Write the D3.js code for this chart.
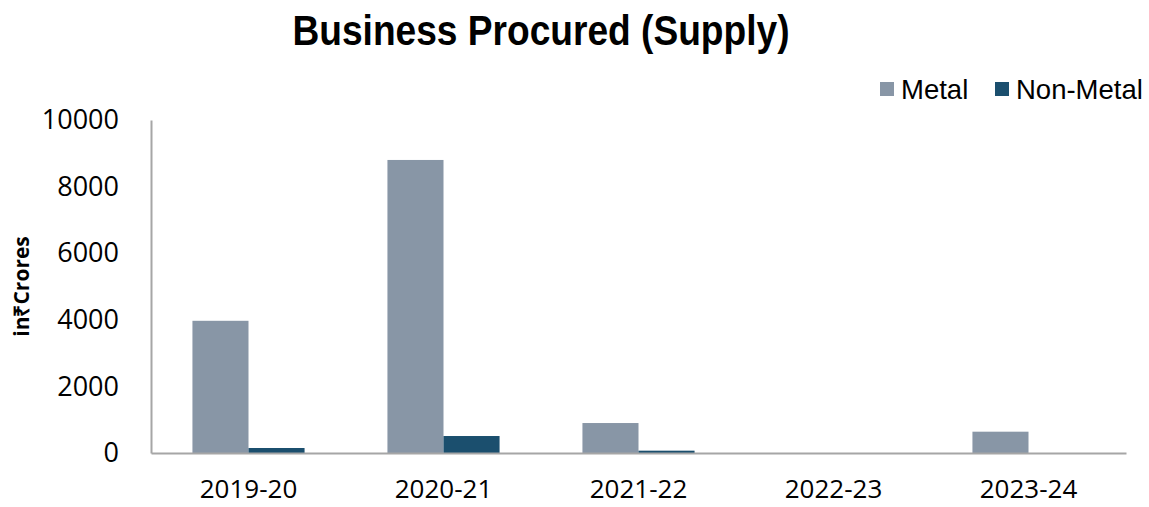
<!DOCTYPE html>
<html>
<head>
<meta charset="utf-8">
<script src="https://cdn.jsdelivr.net/npm/d3@7"></script>
<style>
  html, body { margin: 0; padding: 0; background: #fff; }
  svg { display: block; }
</style>
</head>
<body>
<svg id="chart" width="1149" height="507"></svg>
<script>
// Business procured by year, in ₹ Crores
const categories = ["2019-20", "2020-21", "2021-22", "2022-23", "2023-24"];
const metal = [3970, 8800, 900, 0, 640];
const nonMetal = [150, 510, 70, 0, 0];
const seriesNames = ["Metal", "Non-Metal"];
const yTicks = [0, 2000, 4000, 6000, 8000, 10000];

const colors = { "Metal": "#8896A6", "Non-Metal": "#1B4F6E" };

const svg = d3.select("#chart");
const margin = { left: 151, right: 23, top: 120, bottom: 54 };
const W = 1149, H = 507;

const x = d3.scaleBand().domain(categories).range([margin.left, W - margin.right]).paddingInner(0.425).paddingOuter(0.2125);
const xs = d3.scaleBand().domain(seriesNames).range([0, x.bandwidth()]);
const y = d3.scaleLinear().domain([0, 10000]).range([H - margin.bottom, margin.top]);

const rows = categories.map((c, i) => ({ cat: c, values: [
  { key: "Metal", v: metal[i] },
  { key: "Non-Metal", v: nonMetal[i] }
]}));

// bars
const g = svg.append("g");
g.selectAll("g.cat").data(rows).join("g")
  .attr("class", "cat")
  .attr("transform", d => `translate(${x(d.cat)},0)`)
  .selectAll("rect").data(d => d.values).join("rect")
  .attr("x", d => xs(d.key))
  .attr("width", xs.bandwidth())
  .attr("y", d => y(d.v))
  .attr("height", d => y(0) - y(d.v))
  .attr("fill", d => colors[d.key]);

// y axis
const yAxis = d3.axisLeft(y).tickValues(yTicks).tickSize(0).tickPadding(32).tickFormat(d3.format("d"));
const ya = svg.append("g").attr("transform", `translate(${margin.left},0)`).call(yAxis);
ya.select(".domain").attr("stroke", "#A6A6A6").attr("stroke-width", 2);
ya.selectAll("text").attr("font-family", "'Open Sans', sans-serif").attr("font-size", 27).attr("fill", "#000");

// x axis
const xAxis = d3.axisBottom(x).tickSize(0).tickPadding(27);
const xa = svg.append("g").attr("transform", `translate(0,${y(0)})`).call(xAxis);
xa.select(".domain").attr("stroke", "#A6A6A6").attr("stroke-width", 2);
xa.selectAll("text").attr("font-family", "'Open Sans', sans-serif").attr("font-size", 26).attr("fill", "#000");

// y axis title
svg.append("text")
  .attr("transform", `translate(29,${(y(0) + y(10000)) / 2}) rotate(-90)`)
  .attr("text-anchor", "middle")
  .attr("font-family", "'Open Sans', sans-serif")
  .attr("font-weight", "bold")
  .attr("font-size", 21)
  .text("in₹Crores");

// title
svg.append("text")
  .attr("x", 541).attr("y", 45)
  .attr("text-anchor", "middle")
  .attr("font-family", "'Liberation Sans', Arial, sans-serif")
  .attr("font-weight", "bold")
  .attr("font-size", 42)
  .attr("textLength", 497)
  .attr("lengthAdjust", "spacingAndGlyphs")
  .text("Business Procured (Supply)");

// legend
const legendPos = [{ key: "Metal", sx: 880, tx: 901 }, { key: "Non-Metal", sx: 995, tx: 1016 }];
const lg = svg.append("g");
lg.selectAll("rect").data(legendPos).join("rect")
  .attr("x", d => d.sx).attr("y", 82).attr("width", 14).attr("height", 14)
  .attr("fill", d => colors[d.key]);
lg.selectAll("text").data(legendPos).join("text")
  .attr("x", d => d.tx).attr("y", 99)
  .attr("font-family", "'Liberation Sans', Arial, sans-serif")
  .attr("font-size", 27.5)
  .attr("fill", "#000")
  .text(d => d.key);
</script>
</body>
</html>
